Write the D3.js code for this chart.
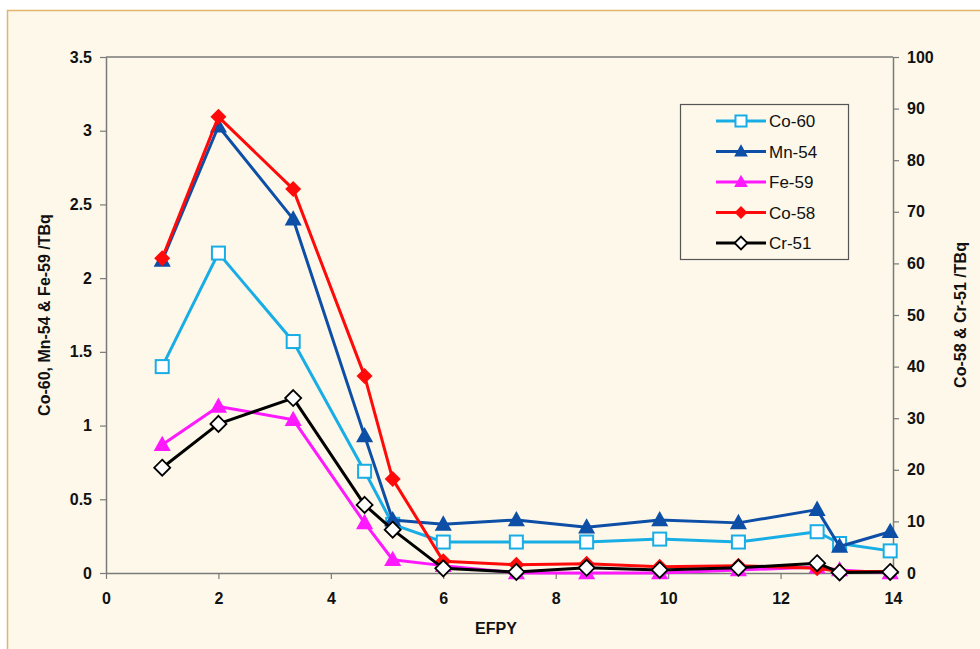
<!DOCTYPE html>
<html>
<head>
<meta charset="utf-8">
<script src="https://cdn.jsdelivr.net/npm/d3@7"></script>
<style>
  html, body { margin: 0; padding: 0; background: #fff; }
  svg { display: block; font-family: "Liberation Sans", Arial, sans-serif; }
</style>
</head>
<body>
<script>
// EFPY positions of the samples
const efpy = [1, 2, 3.33, 4.6, 5.1, 6, 7.3, 8.55, 9.85, 11.25, 12.65, 13.05, 13.95];

// left axis series (TBq)
const co60 = [1.40, 2.17, 1.57, 0.69, 0.33, 0.21, 0.21, 0.21, 0.23, 0.21, 0.28, 0.20, 0.15];
const mn54 = [2.12, 3.03, 2.40, 0.93, 0.36, 0.33, 0.36, 0.31, 0.36, 0.34, 0.43, 0.18, 0.28];
const fe59 = [0.87, 1.13, 1.04, 0.34, 0.09, 0.05, 0.00, 0.00, 0.00, 0.02, 0.04, 0.02, 0.00];

// right axis series (TBq)
const co58 = [61, 88.4, 74.4, 38.2, 18.2, 2.3, 1.6, 1.8, 1.2, 1.4, 0.9, 0.3, 0.3];
const cr51 = [20.4, 28.9, 33.9, 13.2, 8.4, 0.9, 0.2, 1.0, 0.6, 1.0, 1.9, 0.1, 0.2];

const xTicks = [0, 2, 4, 6, 8, 10, 12, 14];
const yLeftTicks = [0, 0.5, 1, 1.5, 2, 2.5, 3, 3.5];
const yRightTicks = [0, 10, 20, 30, 40, 50, 60, 70, 80, 90, 100];

const series = [
  { name: "Co-60", values: co60, axis: "left", color: "#19ade6", marker: "square" },
  { name: "Mn-54", values: mn54, axis: "left", color: "#0d4ea6", marker: "triangle" },
  { name: "Fe-59", values: fe59, axis: "left", color: "#ff19ff", marker: "triangle" },
  { name: "Co-58", values: co58, axis: "right", color: "#ff0a0a", marker: "diamondFilled" },
  { name: "Cr-51", values: cr51, axis: "right", color: "#000000", marker: "diamond" },
];

const width = 980, height = 649;
const margin = { top: 57, right: 87, bottom: 76, left: 106 };

const svg = d3.select("body").append("svg")
  .attr("width", width)
  .attr("height", height);

// panel background with orange frame top/left
svg.append("rect")
  .attr("x", 7).attr("y", 10)
  .attr("width", width - 7).attr("height", height - 10)
  .attr("fill", "#fdf8e9");
svg.append("path")
  .attr("d", `M7.5,${height}V10.5H${width}`)
  .attr("fill", "none")
  .attr("stroke", "#e2b46c")
  .attr("stroke-width", 1.5);

const x = d3.scaleLinear().domain([0, 14]).range([margin.left, width - margin.right]);
const yL = d3.scaleLinear().domain([0, 3.5]).range([height - margin.bottom, margin.top]);
const yR = d3.scaleLinear().domain([0, 100]).range([height - margin.bottom, margin.top]);

const axisColor = "#7a7a7a";
const fmt = (d) => String(d);
const styleAxis = (g) => {
  g.select(".domain").attr("stroke", axisColor).attr("stroke-width", 1.5);
  g.selectAll(".tick line").attr("stroke", axisColor).attr("stroke-width", 1.2);
  g.selectAll(".tick text")
    .attr("fill", "#111")
    .attr("font-size", 16)
    .attr("font-weight", "bold");
};

// top frame line
svg.append("line")
  .attr("x1", margin.left).attr("x2", width - margin.right)
  .attr("y1", margin.top).attr("y2", margin.top)
  .attr("stroke", axisColor).attr("stroke-width", 1.5);

svg.append("g")
  .attr("transform", `translate(0,${height - margin.bottom})`)
  .call(d3.axisBottom(x).tickValues(xTicks).tickFormat(fmt).tickSize(6).tickPadding(14).tickSizeOuter(0))
  .call(styleAxis);

svg.append("g")
  .attr("transform", `translate(${margin.left},0)`)
  .call(d3.axisLeft(yL).tickValues(yLeftTicks).tickFormat(fmt).tickSize(6).tickPadding(8).tickSizeOuter(0))
  .call(styleAxis);

svg.append("g")
  .attr("transform", `translate(${width - margin.right},0)`)
  .call(d3.axisRight(yR).tickValues(yRightTicks).tickFormat(fmt).tickSize(6).tickPadding(8).tickSizeOuter(0))
  .call(styleAxis);

// axis titles
svg.append("text")
  .attr("x", 496).attr("y", 634)
  .attr("text-anchor", "middle")
  .attr("font-size", 16).attr("font-weight", "bold").attr("fill", "#111")
  .text("EFPY");

svg.append("text")
  .attr("transform", `translate(50,${(margin.top + height - margin.bottom) / 2}) rotate(-90)`)
  .attr("text-anchor", "middle")
  .attr("font-size", 16).attr("font-weight", "bold").attr("fill", "#111")
  .text("Co-60, Mn-54 & Fe-59 /TBq");

svg.append("text")
  .attr("transform", `translate(966,${(margin.top + height - margin.bottom) / 2}) rotate(-90)`)
  .attr("text-anchor", "middle")
  .attr("font-size", 16).attr("font-weight", "bold").attr("fill", "#111")
  .text("Co-58 & Cr-51 /TBq");

// marker drawing
const drawMarker = (g, type, color, cx, cy, s = 1) => {
  if (type === "square") {
    g.append("rect")
      .attr("x", cx - 6.5 * s).attr("y", cy - 6.5 * s)
      .attr("width", 13 * s).attr("height", 13 * s)
      .attr("fill", "#fff").attr("stroke", color).attr("stroke-width", 2);
  } else if (type === "triangle") {
    const r = 9 * s;
    g.append("path")
      .attr("d", `M${cx},${cy - r}L${cx + r * 0.95},${cy + r * 0.7}L${cx - r * 0.95},${cy + r * 0.7}Z`)
      .attr("fill", color);
  } else if (type === "diamondFilled") {
    const r = 8 * s;
    g.append("path")
      .attr("d", `M${cx},${cy - r}L${cx + r},${cy}L${cx},${cy + r}L${cx - r},${cy}Z`)
      .attr("fill", color);
  } else if (type === "diamond") {
    const r = 8 * s;
    g.append("path")
      .attr("d", `M${cx},${cy - r}L${cx + r},${cy}L${cx},${cy + r}L${cx - r},${cy}Z`)
      .attr("fill", "#fff").attr("stroke", color).attr("stroke-width", 1.8);
  }
};

// series lines and markers
series.forEach((s) => {
  const y = s.axis === "left" ? yL : yR;
  const pts = efpy.map((e, i) => [x(e), y(s.values[i])]);
  const g = svg.append("g");
  g.append("path")
    .attr("d", d3.line()(pts))
    .attr("fill", "none")
    .attr("stroke", s.color)
    .attr("stroke-width", 3)
    .attr("stroke-linejoin", "round");
  pts.forEach(([px, py]) => drawMarker(g, s.marker, s.color, px, py));
});

// legend
const legend = svg.append("g").attr("transform", "translate(680,104)");
legend.append("rect")
  .attr("x", 0.5).attr("y", 0.5)
  .attr("width", 168).attr("height", 155)
  .attr("fill", "#fdf8e9")
  .attr("stroke", "#555").attr("stroke-width", 1.2);

series.forEach((s, i) => {
  const ry = 17 + i * 30.5;
  legend.append("line")
    .attr("x1", 36).attr("x2", 86)
    .attr("y1", ry).attr("y2", ry)
    .attr("stroke", s.color).attr("stroke-width", 3);
  drawMarker(legend, s.marker, s.color, 61, ry, s.marker === "square" ? 0.85 : 0.8);
  legend.append("text")
    .attr("x", 89).attr("y", ry + 6)
    .attr("font-size", 17).attr("fill", "#111")
    .text(s.name);
});
</script>
</body>
</html>
